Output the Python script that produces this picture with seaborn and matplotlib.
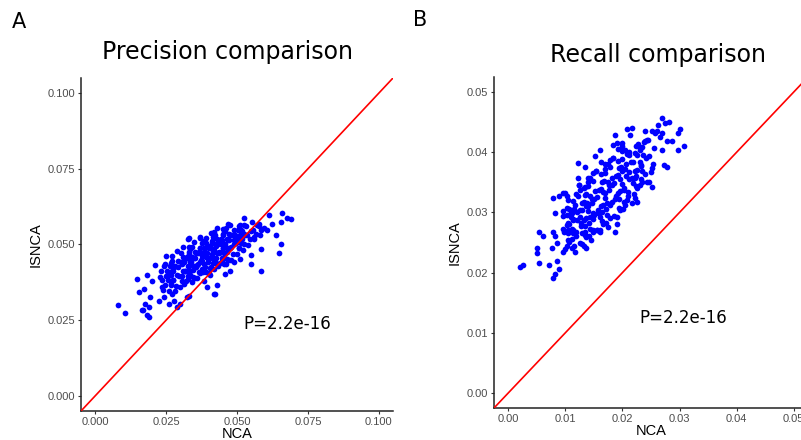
import matplotlib
matplotlib.use("Agg")
import matplotlib.pyplot as plt
import seaborn as sns
import pandas as pd

# values (NCA on x, ISNCA on y)
precision_nca = [
    .0079, .0106, .0147, .0183, .0168, .0177,
    .0153, .0173, .0194, .0188, .0212, .0200,
    .0230, .0235, .0224, .0241, .0247, .0267,
    .0330, .0259, .0271, .0277, .0289, .0324,
    .0300, .0330, .0418, .0395, .0430, .0459,
    .0477, .0489, .0548, .0583, .0648, .0654,
    .0636, .0607, .0624, .0654, .0677, .0689,
    .0660, .0612, .0577, .0554, .0524, .0477,
    .0418, .0371, .0583, .0548, .0512, .0453,
    .0406, .0383, .0442, .0489, .0524, .0560,
    .0595, .0191, .0165, .0183, .0329, .0424,
    # dense band
    .0240, .0246, .0236, .0249, .0233, .0243,
    .0260, .0266, .0256, .0269, .0253, .0263, .0271, .0250,
    .0280, .0286, .0276, .0289, .0273, .0283, .0291, .0270,
    .0300, .0306, .0296, .0309, .0293, .0303, .0311, .0290,
    .0320, .0326, .0316, .0329, .0313, .0323, .0331, .0310,
    .0340, .0346, .0336, .0349, .0333, .0343, .0351, .0330,
    .0360, .0366, .0356, .0369, .0353, .0363, .0371, .0350,
    .0380, .0386, .0376, .0389, .0373, .0383, .0391, .0370,
    .0400, .0406, .0396, .0409, .0393, .0403, .0411, .0390,
    .0420, .0426, .0416, .0429, .0413, .0423, .0431, .0410,
    .0440, .0446, .0436, .0449, .0433, .0443, .0451, .0430,
    .0460, .0466, .0456, .0469, .0453, .0463, .0471, .0450,
    .0480, .0486, .0476, .0489, .0473, .0483, .0491, .0470,
    .0500, .0506, .0496, .0509, .0493, .0503, .0511,
    .0520, .0526, .0516, .0529, .0513, .0523,
    .0540, .0546, .0536, .0549, .0533,
    .0560, .0566, .0556, .0569,
    .0580, .0586, .0576,
    .0312, .0305, .0318, .0307, .0316, .0302,
    .0352, .0345, .0358, .0347, .0356, .0342,
    .0392, .0385, .0398, .0387, .0396, .0382,
    .0432, .0425, .0438, .0427, .0436, .0422,
    .0472, .0465, .0478, .0467, .0476, .0462,
    .0268, .0275, .0264, .0272, .0278, .0266,
    .0328, .0335, .0324, .0332, .0338, .0326, .0331, .0336,
    .0368, .0375, .0364, .0372, .0378, .0366, .0371, .0376,
    .0408, .0415, .0404, .0412, .0418, .0406, .0411, .0416,
    .0448, .0455, .0444, .0452, .0458, .0446, .0451, .0456,
    .0508, .0515, .0504, .0512, .0518, .0506,
]
precision_isnca = [
    .0300, .0273, .0387, .0398, .0282, .0304,
    .0343, .0354, .0328, .0293, .0431, .0381,
    .0393, .0359, .0315, .0328, .0437, .0431,
    .0520, .0304, .0337, .0315, .0293, .0326,
    .0304, .0331, .0337, .0359, .0365, .0401,
    .0414, .0442, .0464, .0486, .0472, .0503,
    .0530, .0547, .0569, .0575, .0586, .0583,
    .0605, .0597, .0567, .0575, .0586, .0564,
    .0542, .0525, .0414, .0437, .0453, .0437,
    .0398, .0381, .0503, .0514, .0536, .0525,
    .0553, .0261, .0282, .0268, .0517, .0337,
    # dense band
    .0349, .0367, .0382, .0396, .0412, .0429,
    .0348, .0367, .0384, .0398, .0413, .0429, .0446, .0463,
    .0346, .0363, .0382, .0399, .0412, .0428, .0444, .0461,
    .0360, .0379, .0397, .0412, .0426, .0442, .0459, .0477,
    .0378, .0397, .0414, .0428, .0443, .0459, .0476, .0493,
    .0376, .0393, .0412, .0429, .0442, .0458, .0474, .0491,
    .0390, .0409, .0427, .0442, .0456, .0472, .0489, .0507,
    .0408, .0427, .0444, .0458, .0473, .0489, .0506, .0523,
    .0406, .0423, .0442, .0459, .0472, .0488, .0504, .0521,
    .0420, .0439, .0457, .0472, .0486, .0502, .0519, .0537,
    .0438, .0457, .0474, .0488, .0503, .0519, .0536, .0553,
    .0436, .0453, .0472, .0489, .0502, .0518, .0534, .0551,
    .0450, .0469, .0487, .0502, .0516, .0532, .0549, .0567,
    .0468, .0487, .0504, .0518, .0533, .0549, .0566,
    .0483, .0502, .0519, .0532, .0548, .0564,
    .0499, .0517, .0532, .0546, .0562,
    .0517, .0534, .0548, .0563,
    .0532, .0549, .0562,
    .0370, .0395, .0412, .0434, .0451, .0473,
    .0390, .0415, .0432, .0454, .0471, .0493,
    .0410, .0435, .0452, .0474, .0491, .0513,
    .0430, .0455, .0472, .0494, .0511, .0533,
    .0450, .0475, .0492, .0514, .0531, .0553,
    .0369, .0384, .0398, .0412, .0425, .0440,
    .0385, .0399, .0414, .0428, .0442, .0455, .0470, .0484,
    .0405, .0419, .0434, .0448, .0462, .0475, .0490, .0504,
    .0425, .0439, .0454, .0468, .0482, .0495, .0510, .0524,
    .0445, .0459, .0474, .0488, .0502, .0515, .0530, .0544,
    .0489, .0504, .0518, .0532, .0545, .0560,
]

recall_nca = [
    .0020, .0026, .0053, .0050, .0050, .0053, .0061, .0079, .0082, .0072, .0085,
    .0088, .0079, .0082, .0076, .0085, .0096, .0102, .0111, .0132, .0096, .0105,
    .0114, .0129, .0149, .0082, .0079, .0088, .0096, .0102, .0096, .0102, .0111,
    .0105, .0114, .0126, .0135, .0129, .0138, .0149, .0155, .0161, .0135, .0126,
    .0117, .0137, .0161, .0187, .0190, .0123, .0135, .0161, .0152, .0187, .0190,
    .0208, .0216, .0214, .0240, .0243, .0251, .0260, .0269, .0275, .0281, .0269,
    .0287, .0298, .0301, .0307, .0298, .0278, .0269, .0272, .0278, .0251, .0251,
    .0243, .0234, .0225, .0222, .0208, .0222,
    .0184, .0199, .0211, .0228, .0240, .0257, .0123, .0099, .0246, .0262, .0266,
    # dense core
    .0100, .0104, .0097, .0106, .0095, .0102,
    .0115, .0119, .0112, .0121, .0110, .0117, .0122,
    .0130, .0134, .0127, .0136, .0125, .0132, .0137, .0124,
    .0145, .0149, .0142, .0151, .0140, .0147, .0152, .0139, .0148,
    .0160, .0164, .0157, .0166, .0155, .0162, .0167, .0154, .0163,
    .0175, .0179, .0172, .0181, .0170, .0177, .0182, .0169, .0178,
    .0190, .0194, .0187, .0196, .0185, .0192, .0197, .0184, .0193,
    .0205, .0209, .0202, .0211, .0200, .0207, .0212, .0199,
    .0220, .0224, .0217, .0226, .0215, .0222, .0227,
    .0235, .0239, .0232, .0241, .0230, .0237,
    .0250, .0254, .0247, .0256, .0245,
    .0111, .0104, .0113, .0106, .0114,
    .0126, .0119, .0128, .0121, .0129, .0118, .0124,
    .0141, .0134, .0143, .0136, .0144, .0133, .0139,
    .0156, .0149, .0158, .0151, .0159, .0148, .0154,
    .0171, .0164, .0173, .0166, .0174, .0163, .0169,
    .0186, .0179, .0188, .0181, .0189, .0178, .0184,
    .0201, .0194, .0203, .0196, .0204, .0193, .0199,
    .0216, .0209, .0218, .0211, .0219, .0208,
    .0231, .0224, .0233, .0226, .0234,
    .0106, .0113, .0102, .0110, .0116, .0104,
    .0136, .0143, .0132, .0140, .0146, .0134, .0139, .0144,
    .0166, .0173, .0162, .0170, .0176, .0164, .0169, .0174,
    .0196, .0203, .0192, .0200, .0206, .0194, .0199, .0204,
    .0226, .0233, .0222, .0230, .0236, .0224,
]
recall_isnca = [
    .0209, .0213, .0216, .0233, .0241, .0268, .0261, .0191, .0197, .0213, .0219,
    .0206, .0268, .0260, .0241, .0249, .0235, .0244, .0241, .0244, .0272, .0266,
    .0271, .0266, .0271, .0299, .0324, .0327, .0332, .0328, .0302, .0296, .0299,
    .0282, .0288, .0293, .0268, .0304, .0316, .0299, .0271, .0293, .0343, .0338,
    .0235, .0241, .0268, .0268, .0280, .0382, .0376, .0404, .0393, .0429, .0415,
    .0439, .0440, .0429, .0435, .0421, .0435, .0436, .0457, .0449, .0451, .0432,
    .0418, .0432, .0439, .0410, .0404, .0418, .0404, .0378, .0376, .0374, .0343,
    .0350, .0368, .0317, .0324, .0321, .0357,
    .0412, .0415, .0401, .0410, .0418, .0432, .0357, .0332, .0351, .0445, .0425,
    # dense core
    .0240, .0254, .0268, .0281, .0294, .0308,
    .0245, .0260, .0273, .0287, .0300, .0313, .0327,
    .0248, .0263, .0277, .0291, .0304, .0317, .0331, .0346,
    .0254, .0268, .0283, .0296, .0310, .0323, .0336, .0350, .0365,
    .0270, .0285, .0299, .0313, .0326, .0339, .0353, .0368, .0383,
    .0276, .0290, .0305, .0318, .0332, .0345, .0358, .0372, .0387,
    .0293, .0308, .0322, .0336, .0349, .0362, .0376, .0391, .0406,
    .0313, .0328, .0341, .0355, .0368, .0381, .0395, .0410,
    .0330, .0344, .0358, .0371, .0384, .0398, .0413,
    .0350, .0363, .0377, .0390, .0403, .0417,
    .0367, .0381, .0394, .0407, .0421,
    .0256, .0271, .0289, .0305, .0319,
    .0249, .0267, .0282, .0300, .0316, .0330, .0346,
    .0260, .0278, .0293, .0311, .0327, .0341, .0357,
    .0271, .0289, .0304, .0322, .0338, .0352, .0368,
    .0283, .0301, .0316, .0334, .0350, .0364, .0380,
    .0294, .0312, .0327, .0345, .0361, .0375, .0391,
    .0305, .0323, .0338, .0356, .0372, .0386, .0402,
    .0316, .0334, .0349, .0367, .0383, .0397,
    .0346, .0361, .0379, .0395, .0409,
    .0250, .0265, .0279, .0293, .0306, .0321,
    .0259, .0273, .0288, .0302, .0316, .0329, .0344, .0358,
    .0281, .0295, .0310, .0324, .0338, .0351, .0366, .0380,
    .0304, .0318, .0333, .0347, .0361, .0374, .0389, .0403,
    .0340, .0355, .0369, .0383, .0396, .0411,
]

prec_ticks = [0.0, 0.025, 0.05, 0.075, 0.1]
rec_ticks = [0.0, 0.01, 0.02, 0.03, 0.04, 0.05]
p_label = "P=2.2e-16"

sns.set_style("white")
plt.rcParams["font.family"] = ["DejaVu Sans"]
plt.rcParams["text.color"] = "black"
plt.rcParams["axes.labelcolor"] = "black"

prec = pd.DataFrame({"NCA": precision_nca, "ISNCA": precision_isnca})
rec = pd.DataFrame({"NCA": recall_nca, "ISNCA": recall_isnca})

fig = plt.figure(figsize=(8.01, 4.40), dpi=100)
axA = fig.add_axes([81 / 801, 29 / 440, 312 / 801, 333 / 440])
axB = fig.add_axes([494 / 801, 32 / 440, 314 / 801, 331 / 440])

panels = [
    (axA, prec, prec_ticks, "{:.3f}", (-0.005, 0.105), (0.0678, 0.0238)),
    (axB, rec, rec_ticks, "{:.2f}", (-0.0025, 0.0525), (0.0307, 0.0125)),
]
for ax, df, ticks, fmt, lims, ptxt in panels:
    sns.scatterplot(data=df, x="NCA", y="ISNCA", ax=ax, color="#0000FF",
                    s=17, linewidth=0, zorder=3)
    ax.axline((0, 0), slope=1, color="#FF0000", lw=1.2, zorder=4)
    ax.set_xlim(lims)
    ax.set_ylim(lims)
    ax.set_xticks(ticks)
    ax.set_yticks(ticks)
    ax.set_xticklabels([fmt.format(t) for t in ticks], family="Liberation Sans")
    ax.set_yticklabels([fmt.format(t) for t in ticks], family="Liberation Sans")
    ax.tick_params(axis="both", length=2.5, width=0.8, color="#333333",
                   labelsize=8, labelcolor="#4D4D4D", pad=1.5, bottom=True, left=True)
    for side in ["top", "right"]:
        ax.spines[side].set_visible(False)
    for side in ["left", "bottom"]:
        ax.spines[side].set_linewidth(1.1)
        ax.spines[side].set_color("#222222")
    ax.set_xlabel("NCA", fontsize=10.5, family="Liberation Sans", labelpad=0)
    ax.set_ylabel("ISNCA", fontsize=10.5, family="Liberation Sans", labelpad=4)
    ax.text(ptxt[0], ptxt[1], p_label, fontsize=12, ha="center", va="center")

fig.text(228 / 801, 1 - 52 / 440, "Precision comparison", fontsize=17,
         ha="center", va="center")
fig.text(658 / 801, 1 - 55 / 440, "Recall comparison", fontsize=17,
         ha="center", va="center")
fig.text(19 / 801, 1 - 22 / 440, "A", fontsize=15, ha="center", va="center")
fig.text(420 / 801, 1 - 20 / 440, "B", fontsize=15, ha="center", va="center")

fig.savefig("out.png", dpi=100)
